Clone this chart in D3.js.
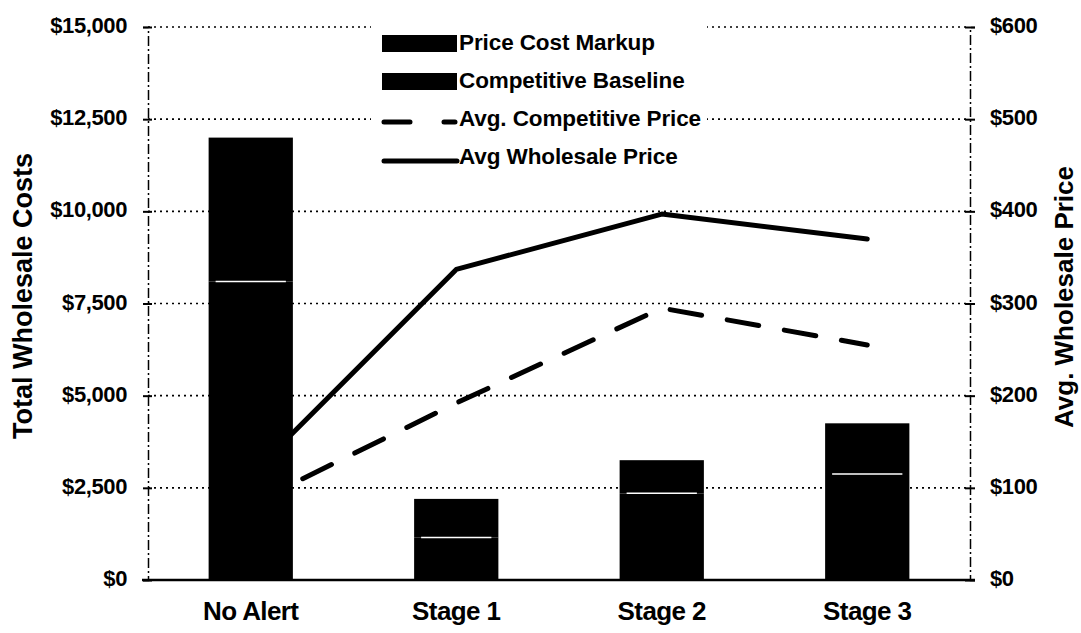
<!DOCTYPE html>
<html>
<head>
<meta charset="utf-8">
<script src="https://cdn.jsdelivr.net/npm/d3@7"></script>
<style>
  body { margin: 0; background: #fff; }
  svg { display: block; font-family: "Liberation Sans", Arial, sans-serif; font-weight: bold; }
</style>
</head>
<body>
<script>
var categories = ['No Alert', 'Stage 1', 'Stage 2', 'Stage 3'];
var competitiveBaseline = [8100, 1150, 2350, 2875];
var priceCostMarkup = [3900, 1050, 900, 1375];
var avgCompetitivePrice = [82, 192, 295, 255];
var avgWholesalePrice = [114, 337, 397, 370];
var leftTicks = [0, 2500, 5000, 7500, 10000, 12500, 15000];
var rightTicks = [0, 100, 200, 300, 400, 500, 600];

var w = 1081, h = 633;
var plotLeft = 148, plotRight = 970, plotTop = 27, plotBottom = 580;

var svg = d3.select('body')
  .append('svg')
  .attr('width', w)
  .attr('height', h);

// SCALES
var xScale = d3.scaleBand()
  .domain(categories)
  .range([plotLeft, plotRight])
  .paddingInner(0.59)
  .paddingOuter(0.295);

var yLeft = d3.scaleLinear().domain([0, 15000]).range([plotBottom, plotTop]);
var yRight = d3.scaleLinear().domain([0, 600]).range([plotBottom, plotTop]);

var fmtLeft = d => '$' + d3.format(',')(d);
var fmtRight = d => '$' + d;

// GRIDLINES (dotted)
svg.append('g')
  .selectAll('line')
  .data(leftTicks.slice(1))
  .enter()
  .append('line')
    .attr('x1', plotLeft)
    .attr('x2', plotRight)
    .attr('y1', d => yLeft(d))
    .attr('y2', d => yLeft(d))
    .attr('stroke', '#000')
    .attr('stroke-width', 1.6)
    .attr('stroke-dasharray', '2,4');

// LINES (drawn under the bars)
var lineGen = d3.line()
  .x((d, i) => xScale(categories[i]) + xScale.bandwidth() / 2)
  .y(d => yRight(d));

svg.append('path')
  .datum(avgCompetitivePrice)
  .attr('d', lineGen)
  .attr('fill', 'none')
  .attr('stroke', '#000')
  .attr('stroke-width', 5)
  .attr('stroke-linecap', 'round')
  .attr('stroke-dasharray', '32,26');

svg.append('path')
  .datum(avgWholesalePrice)
  .attr('d', lineGen)
  .attr('fill', 'none')
  .attr('stroke', '#000')
  .attr('stroke-width', 5)
  .attr('stroke-linejoin', 'round')
  .attr('stroke-linecap', 'round');

// STACKED BARS
var stackData = categories.map((c, i) => ({cat: c, base: competitiveBaseline[i], markup: priceCostMarkup[i]}));
var series = d3.stack().keys(['base', 'markup'])(stackData);

svg.append('g')
  .selectAll('g')
  .data(series)
  .enter()
  .append('g')
  .selectAll('rect')
  .data(d => d)
  .enter()
  .append('rect')
    .attr('x', d => xScale(d.data.cat))
    .attr('width', xScale.bandwidth())
    .attr('y', d => yLeft(d[1]))
    .attr('height', d => yLeft(d[0]) - yLeft(d[1]))
    .attr('fill', '#000');

// white divider between segments
svg.append('g')
  .selectAll('line')
  .data(stackData)
  .enter()
  .append('line')
    .attr('x1', d => xScale(d.cat) + 7)
    .attr('x2', d => xScale(d.cat) + xScale.bandwidth() - 7)
    .attr('y1', d => yLeft(d.base))
    .attr('y2', d => yLeft(d.base))
    .attr('stroke', '#fff')
    .attr('stroke-width', 1.5);

// AXES
var yAxisLeft = d3.axisLeft(yLeft).tickValues(leftTicks).tickFormat(fmtLeft).tickSize(5).tickPadding(16);
var gl = svg.append('g')
  .attr('transform', `translate(${plotLeft},0)`)
  .call(yAxisLeft);

var yAxisRight = d3.axisRight(yRight).tickValues(rightTicks).tickFormat(fmtRight).tickSize(5).tickPadding(15);
var gr = svg.append('g')
  .attr('transform', `translate(${plotRight},0)`)
  .call(yAxisRight);

[gl, gr].forEach(g => {
  g.select('.domain')
    .attr('stroke', '#000')
    .attr('stroke-width', 1.5)
    .attr('stroke-dasharray', '10,3,2,3');
  g.selectAll('.tick line').attr('stroke', '#000').attr('stroke-width', 2);
  g.selectAll('.tick text')
    .attr('fill', '#000')
    .attr('dy', '0.25em')
    .style('font-size', '22px')
    .style('font-weight', 'bold')
    .style('font-family', '"Liberation Sans", Arial, sans-serif')
    .style('letter-spacing', '-0.4px');
});
// ticks cross the axis line
gl.selectAll('.tick line').attr('x1', 4);
gr.selectAll('.tick line').attr('x1', -5);

var xAxis = d3.axisBottom(xScale).tickSize(0).tickPadding(22);
var gx = svg.append('g')
  .attr('transform', `translate(0,${plotBottom})`)
  .call(xAxis);
gx.select('.domain')
  .attr('d', `M${plotLeft - 6},0H${plotRight + 5}`)
  .attr('stroke', '#000')
  .attr('stroke-width', 2.5);
gx.selectAll('.tick text')
  .attr('fill', '#000')
  .style('font-size', '26px')
  .style('font-weight', 'bold')
  .style('font-family', '"Liberation Sans", Arial, sans-serif')
  .style('letter-spacing', '-0.6px');

// AXIS TITLES
svg.append('text')
  .attr('transform', 'translate(32,296)rotate(-90)')
  .style('text-anchor', 'middle')
  .style('font-size', '27px')
  .text('Total Wholesale Costs');

svg.append('text')
  .attr('transform', 'translate(1073,297)rotate(-90)')
  .style('text-anchor', 'middle')
  .style('font-size', '26px')
  .text('Avg. Wholesale Price');

// LEGEND
var legend = svg.append('g');
legend.append('rect')
  .attr('x', 371).attr('y', 20)
  .attr('width', 336).attr('height', 154)
  .attr('fill', '#fff');

var legendItems = [
  {label: 'Price Cost Markup', type: 'rect'},
  {label: 'Competitive Baseline', type: 'rect'},
  {label: 'Avg. Competitive Price', type: 'dash'},
  {label: 'Avg Wholesale Price', type: 'line'}
];

var li = legend.selectAll('g.item')
  .data(legendItems)
  .enter()
  .append('g')
  .attr('class', 'item')
  .attr('transform', (d, i) => `translate(382,${42 + i * 38})`);

li.filter(d => d.type === 'rect')
  .append('rect')
  .attr('x', 0).attr('y', -7)
  .attr('width', 75).attr('height', 17)
  .attr('fill', '#000');

li.filter(d => d.type === 'dash')
  .append('line')
  .attr('x1', 2).attr('x2', 73)
  .attr('y1', 4).attr('y2', 4)
  .attr('stroke', '#000')
  .attr('stroke-width', 5)
  .attr('stroke-linecap', 'round')
  .attr('stroke-dasharray', '26,34');

li.filter(d => d.type === 'line')
  .append('line')
  .attr('x1', 2).attr('x2', 75)
  .attr('y1', 5).attr('y2', 5)
  .attr('stroke', '#000')
  .attr('stroke-width', 5)
  .attr('stroke-linecap', 'round');

li.append('text')
  .attr('x', 77)
  .attr('y', 0)
  .attr('dy', '0.35em')
  .style('font-size', '22.5px')
  .style('letter-spacing', '-0.1px')
  .text(d => d.label);
</script>
</body>
</html>
